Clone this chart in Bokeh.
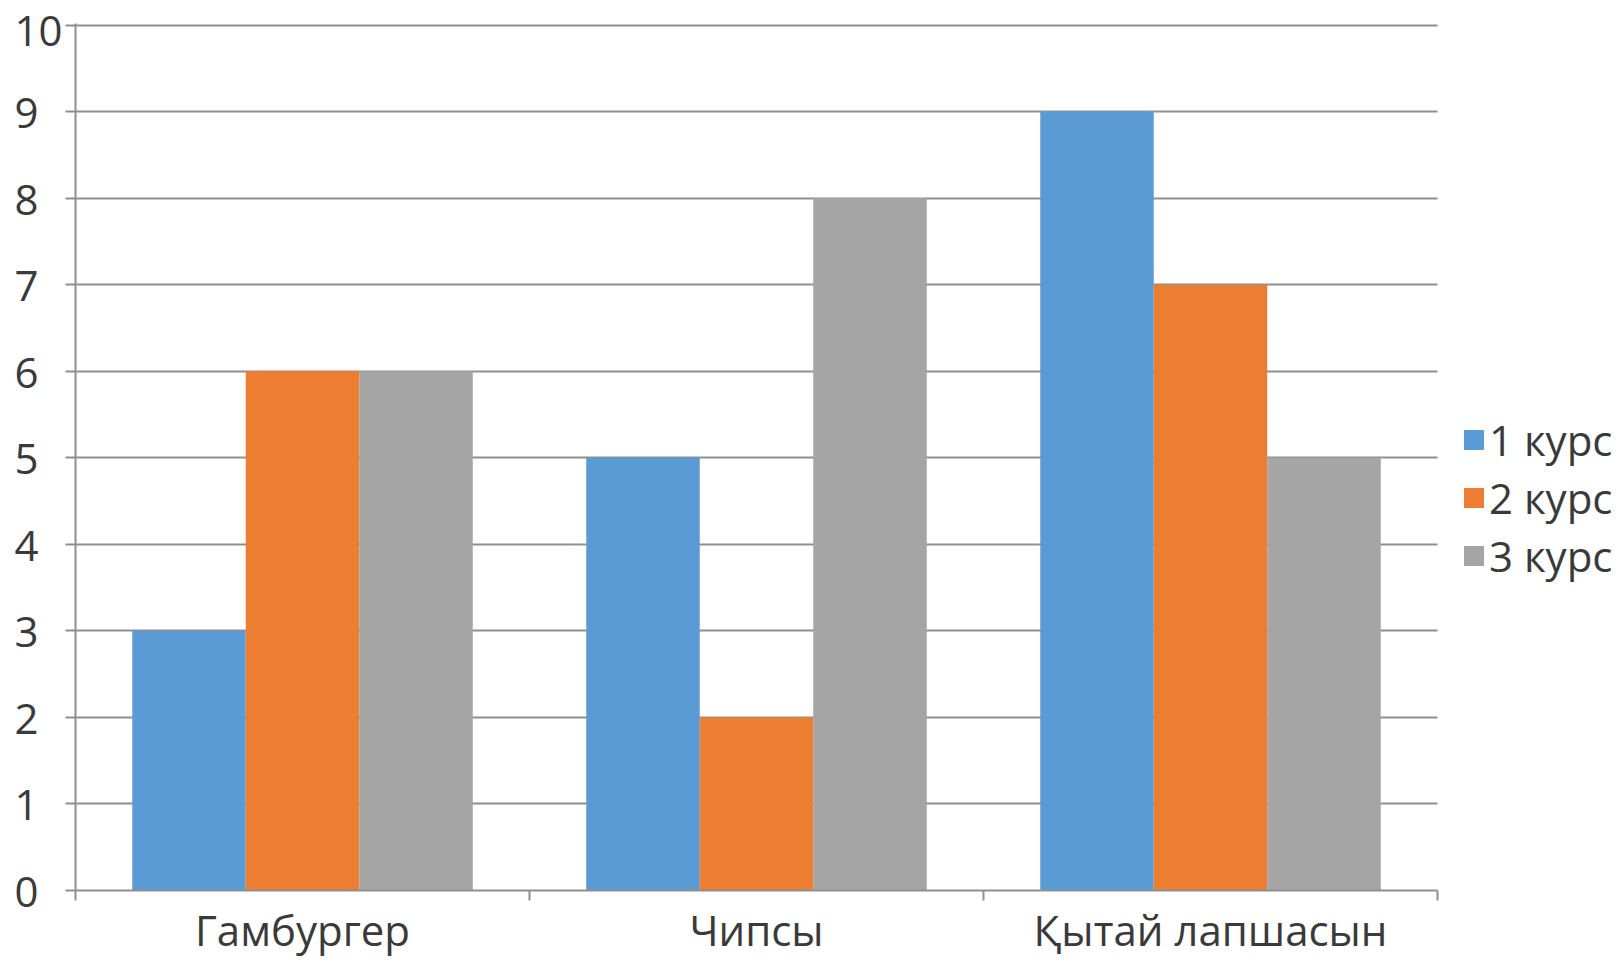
from bokeh.plotting import figure
from bokeh.models import ColumnDataSource, Range1d, FixedTicker, Legend, LegendItem
from bokeh.transform import dodge
from bokeh.embed import file_html
from bokeh.resources import INLINE

# ---- data ----
categories = ["Гамбургер", "Чипсы", "Қытай лапшасын"]
series_names = ["1 курс", "2 курс", "3 курс"]
kurs1 = [3, 5, 9]
kurs2 = [6, 2, 7]
kurs3 = [6, 8, 5]
series_colors = ["#5B9BD5", "#ED7D31", "#A5A5A5"]
y_ticks = [0, 1, 2, 3, 4, 5, 6, 7, 8, 9, 10]

FONT = "Open Sans"
FONT_SIZE = "42px"
TEXT_COLOR = "#3a3a3a"
LINE_COLOR = "#8f8f8f"
FIG_SPACE = "\u2007"

W, H = 1617, 960
LEFT, TOP, BOTTOM = 75, 23, 70
PLOT_W = 1362            # pixel width of the category area
n = len(categories)
frame_w = W - LEFT
x_end = n * frame_w / PLOT_W   # extend frame to the right so the legend fits inside it

xs = [i + 0.5 for i in range(n)]
source = ColumnDataSource(data=dict(x=xs, k1=kurs1, k2=kurs2, k3=kurs3))

p = figure(width=W, height=H, output_backend="svg", toolbar_location=None,
           x_range=Range1d(0, x_end), y_range=Range1d(0, 10.02),
           min_border_left=LEFT, min_border_top=TOP, min_border_right=0,
           min_border_bottom=BOTTOM)
p.outline_line_color = None
p.background_fill_color = None
p.border_fill_color = None

width = 0.25
offsets = [-0.25, 0.0, 0.25]
renderers = []
for col, color, off in zip(["k1", "k2", "k3"], series_colors, offsets):
    r = p.vbar(x=dodge("x", off), top=col, width=width, source=source,
               fill_color=color, line_color=None)
    renderers.append(r)

# x axis: labels at category centres, ticks at category boundaries
p.xaxis.bounds = (0, n)
p.xaxis.ticker = FixedTicker(ticks=xs, minor_ticks=list(range(n + 1)))
p.xaxis.major_label_overrides = {x: c for x, c in zip(xs, categories)}
p.xaxis.major_tick_out = 0
p.xaxis.major_tick_in = 0
p.xaxis.minor_tick_out = 10
p.xaxis.minor_tick_in = 0
p.xaxis.minor_tick_line_color = LINE_COLOR
p.xaxis.minor_tick_line_width = 2
p.xaxis.axis_line_color = LINE_COLOR
p.xaxis.axis_line_width = 2
p.xaxis.major_label_text_font = FONT
p.xaxis.major_label_text_font_size = FONT_SIZE
p.xaxis.major_label_text_color = TEXT_COLOR
p.xaxis.major_label_standoff = 0

# y axis (labels left-aligned: pad single digits with a figure space)
p.yaxis.ticker = FixedTicker(ticks=y_ticks)
p.yaxis.major_label_overrides = {t: (str(t) if t >= 10 else str(t) + FIG_SPACE) for t in y_ticks}
p.yaxis.major_tick_out = 10
p.yaxis.major_tick_in = 0
p.yaxis.minor_tick_line_color = None
p.yaxis.major_tick_line_color = LINE_COLOR
p.yaxis.major_tick_line_width = 2
p.yaxis.axis_line_color = LINE_COLOR
p.yaxis.axis_line_width = 2
p.yaxis.major_label_standoff = 3
p.yaxis.major_label_text_font = FONT
p.yaxis.major_label_text_font_size = FONT_SIZE
p.yaxis.major_label_text_color = TEXT_COLOR

p.xgrid.grid_line_color = None
p.ygrid.ticker = FixedTicker(ticks=y_ticks)
p.ygrid.grid_line_color = LINE_COLOR
p.ygrid.grid_line_width = 2
p.ygrid.cross_bounds = (0, n)

# legend (inside the extended frame, right of the categories)
lg = Legend(items=[LegendItem(label=s, renderers=[r]) for s, r in zip(series_names, renderers)],
            location=(1386, 306))
lg.padding = 0
lg.margin = 0
lg.spacing = 1
lg.label_height = 52
lg.glyph_width = 25
lg.glyph_height = 25
lg.label_standoff = 3
lg.border_line_color = None
lg.background_fill_alpha = 0
lg.label_text_font = FONT
lg.label_text_font_size = FONT_SIZE
lg.label_text_color = TEXT_COLOR
p.add_layout(lg)

open("out.html", "w").write(file_html(p, INLINE))
